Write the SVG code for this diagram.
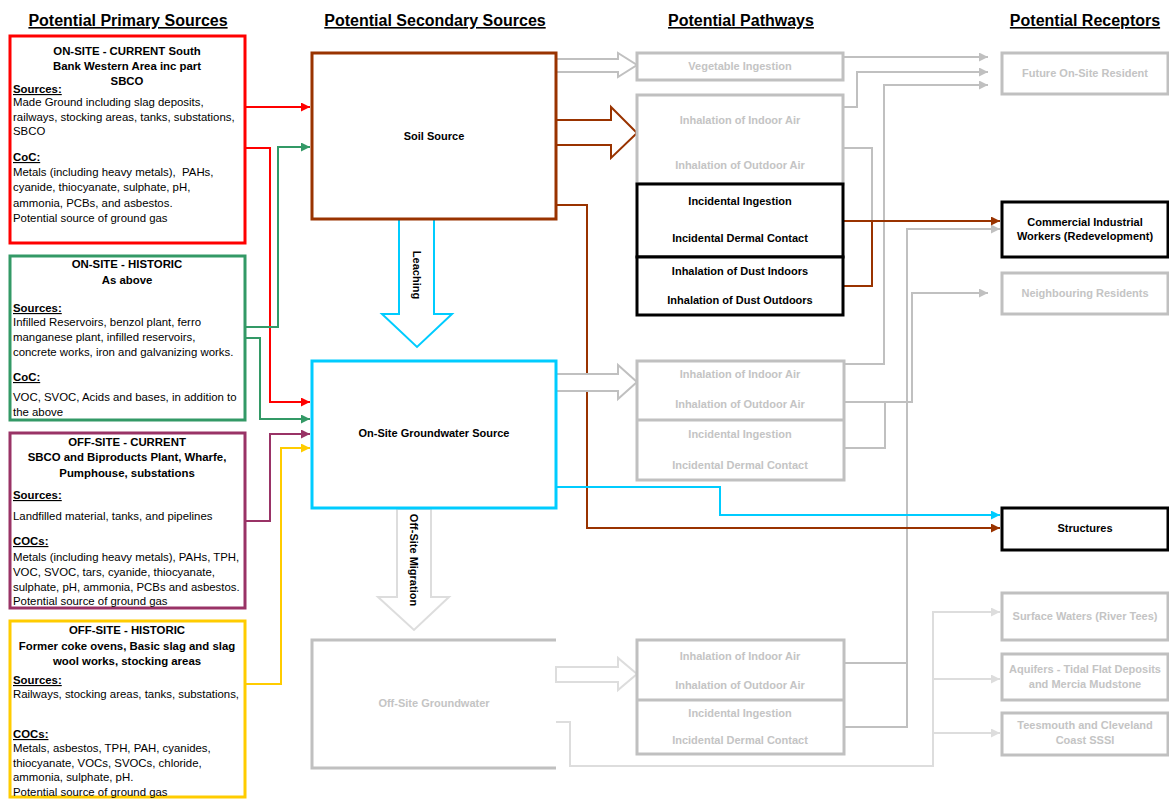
<svg xmlns="http://www.w3.org/2000/svg" width="1169" height="799" viewBox="0 0 1169 799">
<style>
text{font-family:"Liberation Sans",Arial,sans-serif;font-size:11px;fill:#000}
.L text{font-size:11.4px}
.b{font-weight:bold}
.c{text-anchor:middle}
.u{text-decoration:underline;font-weight:bold}
.g{fill:#C4C4C4}
.h{font-size:16px;font-weight:bold;text-decoration:underline;text-anchor:middle}
.box{fill:#fff;stroke-width:3}
.ln{fill:none;stroke-width:2}
.blk{fill:#fff;stroke-width:2}
</style>
<defs>
<marker id="mR" viewBox="0 0 10 10" refX="10" refY="5" markerWidth="10" markerHeight="9" markerUnits="userSpaceOnUse" orient="auto"><path d="M0,0L10,5L0,10z" fill="#FF0000"/></marker>
<marker id="mG" viewBox="0 0 10 10" refX="10" refY="5" markerWidth="10" markerHeight="9" markerUnits="userSpaceOnUse" orient="auto"><path d="M0,0L10,5L0,10z" fill="#339966"/></marker>
<marker id="mP" viewBox="0 0 10 10" refX="10" refY="5" markerWidth="10" markerHeight="9" markerUnits="userSpaceOnUse" orient="auto"><path d="M0,0L10,5L0,10z" fill="#993366"/></marker>
<marker id="mY" viewBox="0 0 10 10" refX="10" refY="5" markerWidth="10" markerHeight="9" markerUnits="userSpaceOnUse" orient="auto"><path d="M0,0L10,5L0,10z" fill="#FFCC00"/></marker>
<marker id="mB" viewBox="0 0 10 10" refX="10" refY="5" markerWidth="10" markerHeight="9" markerUnits="userSpaceOnUse" orient="auto"><path d="M0,0L10,5L0,10z" fill="#993300"/></marker>
<marker id="mC" viewBox="0 0 10 10" refX="10" refY="5" markerWidth="10" markerHeight="9" markerUnits="userSpaceOnUse" orient="auto"><path d="M0,0L10,5L0,10z" fill="#00CCFF"/></marker>
<marker id="mS" viewBox="0 0 10 10" refX="10" refY="5" markerWidth="12" markerHeight="9" markerUnits="userSpaceOnUse" orient="auto"><path d="M0,0L10,5L0,10z" fill="#C0C0C0"/></marker>
<marker id="mL" viewBox="0 0 10 10" refX="10" refY="5" markerWidth="12" markerHeight="9" markerUnits="userSpaceOnUse" orient="auto"><path d="M0,0L10,5L0,10z" fill="#DDDDDD"/></marker>
</defs>
<rect width="1169" height="799" fill="#fff"/>

<g id="headers">
<text class="h" x="128" y="26">Potential Primary Sources</text>
<text class="h" x="435" y="26">Potential Secondary Sources</text>
<text class="h" x="741" y="26">Potential Pathways</text>
<text class="h" x="1085" y="26">Potential Receptors</text>
</g>

<g id="connectors">
<path class="ln" stroke="#FF0000" d="M245,107H310" marker-end="url(#mR)"/>
<path class="ln" stroke="#FF0000" d="M245,148H270V402H310" marker-end="url(#mR)"/>
<path class="ln" stroke="#339966" d="M245,327H278V147H310" marker-end="url(#mG)"/>
<path class="ln" stroke="#339966" d="M245,338H260V419H310" marker-end="url(#mG)"/>
<path class="ln" stroke="#993366" d="M245,521H270V434H310" marker-end="url(#mP)"/>
<path class="ln" stroke="#FFCC00" d="M245,684H281V448H310" marker-end="url(#mY)"/>
<path class="ln" stroke="#C0C0C0" d="M843,57H988" marker-end="url(#mS)"/>
<path class="ln" stroke="#C0C0C0" d="M843,107H857V72H988" marker-end="url(#mS)"/>
<path class="ln" stroke="#C0C0C0" d="M844,364H884V85H988" marker-end="url(#mS)"/>
<path class="ln" stroke="#C0C0C0" d="M843,148H872V221"/>
<path class="ln" stroke="#C0C0C0" d="M844,448H885V402"/>
<path class="ln" stroke="#C0C0C0" d="M844,402H912V293H988" marker-end="url(#mS)"/>
<path class="ln" stroke="#C0C0C0" d="M844,663H907"/>
<path class="ln" stroke="#C0C0C0" d="M844,727H907V229H1000" marker-end="url(#mS)"/>
<path class="ln" stroke="#993300" d="M843,221H1000" marker-end="url(#mB)"/>
<path class="ln" stroke="#993300" d="M843,286H872V221"/>
<path class="ln" stroke="#993300" d="M556,205H587V528H1000" marker-end="url(#mB)"/>
<path class="ln" stroke="#00CCFF" d="M556,487H720V515H1000" marker-end="url(#mC)"/>
<path class="ln" stroke="#DDDDDD" d="M556,722H570V766H933V612H1000" marker-end="url(#mL)"/>
<path class="ln" stroke="#DDDDDD" d="M933,679H1000" marker-end="url(#mL)"/>
<path class="ln" stroke="#DDDDDD" d="M933,733H1000" marker-end="url(#mL)"/>
<polygon class="blk" stroke="#C0C0C0" points="556,59 618,59 618,53 637,65 618,77 618,72 556,72"/>
<polygon class="blk" stroke="#993300" points="556,120 611,120 611,107 637,133 611,158 611,145 556,145"/>
<polygon class="blk" stroke="#C0C0C0" points="556,374 618,374 618,365 637,382 618,399 618,391 556,391"/>
<polygon class="blk" stroke="#DDDDDD" points="556,667 618,667 618,658 637,674 618,690 618,682 556,682"/>
<polygon class="blk" stroke="#00CCFF" points="399,219 399,314 382,314 417,347 452,314 434,314 434,219"/>
<text class="b c" transform="translate(413,275) rotate(90)">Leaching</text>
<polygon class="blk" stroke="#DDDDDD" points="397,509 397,597 378,597 414,630 449,597 431,597 431,509"/>
<text class="b c" transform="translate(410,560) rotate(90)">Off-Site Migration</text>
</g>

<g id="primary-onsite-current" class="L">
<rect class="box" stroke="#FF0000" x="10" y="36" width="235" height="207"/>
<text class="b c" x="127" y="55">ON-SITE - CURRENT South</text>
<text class="b c" x="127" y="70">Bank Western Area inc part</text>
<text class="b c" x="127" y="85">SBCO</text>
<text class="u" x="13" y="93">Sources:</text>
<text x="13" y="106">Made Ground including slag deposits,</text>
<text x="13" y="121">railways, stocking areas, tanks, substations,</text>
<text x="13" y="135">SBCO</text>
<text class="u" x="13" y="161">CoC:</text>
<text x="13" y="176" xml:space="preserve">Metals (including heavy metals),  PAHs,</text>
<text x="13" y="191">cyanide, thiocyanate, sulphate, pH,</text>
<text x="13" y="207">ammonia, PCBs, and asbestos.</text>
<text x="13" y="222">Potential source of ground gas</text>
</g>

<g id="primary-onsite-historic" class="L">
<rect class="box" stroke="#339966" x="10" y="256" width="235" height="164"/>
<text class="b c" x="127" y="268">ON-SITE - HISTORIC</text>
<text class="b c" x="127" y="284">As above</text>
<text class="u" x="13" y="312">Sources:</text>
<text x="13" y="326">Infilled Reservoirs, benzol plant, ferro</text>
<text x="13" y="341">manganese plant, infilled reservoirs,</text>
<text x="13" y="356">concrete works, iron and galvanizing works.</text>
<text class="u" x="13" y="381">CoC:</text>
<text x="13" y="401">VOC, SVOC, Acids and bases, in addition to</text>
<text x="13" y="416">the above</text>
</g>

<g id="primary-offsite-current" class="L">
<rect class="box" stroke="#993366" x="10" y="433" width="235" height="175"/>
<text class="b c" x="127" y="446">OFF-SITE - CURRENT</text>
<text class="b c" x="127" y="461">SBCO and Biproducts Plant, Wharfe,</text>
<text class="b c" x="127" y="477">Pumphouse, substations</text>
<text class="u" x="13" y="499">Sources:</text>
<text x="13" y="520">Landfilled material, tanks, and pipelines</text>
<text class="u" x="13" y="545">COCs:</text>
<text x="13" y="561">Metals (including heavy metals), PAHs, TPH,</text>
<text x="13" y="576">VOC, SVOC, tars, cyanide, thiocyanate,</text>
<text x="13" y="591">sulphate, pH, ammonia, PCBs and asbestos.</text>
<text x="13" y="605">Potential source of ground gas</text>
</g>

<g id="primary-offsite-historic" class="L">
<rect class="box" stroke="#FFCC00" x="10" y="621" width="235" height="176"/>
<text class="b c" x="127" y="634">OFF-SITE - HISTORIC</text>
<text class="b c" x="127" y="650">Former coke ovens, Basic slag and slag</text>
<text class="b c" x="127" y="665">wool works, stocking areas</text>
<text class="u" x="13" y="684">Sources:</text>
<text x="13" y="698">Railways, stocking areas, tanks, substations,</text>
<text class="u" x="13" y="738">COCs:</text>
<text x="13" y="752">Metals, asbestos, TPH, PAH, cyanides,</text>
<text x="13" y="767">thiocyanate, VOCs, SVOCs, chloride,</text>
<text x="13" y="781">ammonia, sulphate, pH.</text>
<text x="13" y="796">Potential source of ground gas</text>
</g>

<g id="soil-source">
<rect class="box" stroke="#993300" x="312" y="53" width="244" height="166"/>
<text class="b c" x="434" y="140">Soil Source</text>
</g>

<g id="onsite-groundwater">
<rect class="box" stroke="#00CCFF" x="312" y="361" width="244" height="147"/>
<text class="b c" x="434" y="437">On-Site Groundwater Source</text>
</g>

<g id="offsite-groundwater">
<path d="M556,640H312V768H556" fill="none" stroke="#C0C0C0" stroke-width="3"/>
<text class="b c g" x="434" y="707">Off-Site Groundwater</text>
</g>

<g id="pw-vegetable">
<rect class="box" stroke="#C0C0C0" x="637" y="53" width="206" height="27"/>
<text class="b c g" x="740" y="70">Vegetable Ingestion</text>
</g>

<g id="pw-soil-inhalation">
<rect class="box" stroke="#C0C0C0" x="637" y="95" width="206" height="89"/>
<text class="b c g" x="740" y="124">Inhalation of Indoor Air</text>
<text class="b c g" x="740" y="169">Inhalation of Outdoor Air</text>
</g>

<g id="pw-soil-incidental">
<rect class="box" stroke="#000" x="637" y="184" width="206" height="73"/>
<text class="b c" x="740" y="205">Incidental Ingestion</text>
<text class="b c" x="740" y="242">Incidental Dermal Contact</text>
</g>

<g id="pw-soil-dust">
<rect class="box" stroke="#000" x="637" y="257" width="206" height="58"/>
<text class="b c" x="740" y="275">Inhalation of Dust Indoors</text>
<text class="b c" x="740" y="304">Inhalation of Dust Outdoors</text>
</g>

<g id="pw-gw">
<rect class="box" stroke="#C0C0C0" x="637" y="361" width="207" height="119"/>
<line x1="637" y1="420" x2="844" y2="420" stroke="#C0C0C0" stroke-width="3"/>
<text class="b c g" x="740" y="378">Inhalation of Indoor Air</text>
<text class="b c g" x="740" y="408">Inhalation of Outdoor Air</text>
<text class="b c g" x="740" y="438">Incidental Ingestion</text>
<text class="b c g" x="740" y="469">Incidental Dermal Contact</text>
</g>

<g id="pw-offsite">
<rect class="box" stroke="#C0C0C0" x="637" y="640" width="207" height="114"/>
<line x1="637" y1="700" x2="844" y2="700" stroke="#C0C0C0" stroke-width="3"/>
<text class="b c g" x="740" y="660">Inhalation of Indoor Air</text>
<text class="b c g" x="740" y="689">Inhalation of Outdoor Air</text>
<text class="b c g" x="740" y="717">Incidental Ingestion</text>
<text class="b c g" x="740" y="744">Incidental Dermal Contact</text>
</g>

<g id="rc-future">
<rect class="box" stroke="#C0C0C0" x="1002" y="53" width="166" height="41"/>
<text class="b c g" x="1085" y="77">Future On-Site Resident</text>
</g>
<g id="rc-commercial">
<rect class="box" stroke="#000" x="1002" y="202" width="166" height="55"/>
<text class="b c" x="1085" y="226">Commercial Industrial</text>
<text class="b c" x="1085" y="240">Workers (Redevelopment)</text>
</g>
<g id="rc-neighbouring">
<rect class="box" stroke="#C0C0C0" x="1002" y="273" width="166" height="41"/>
<text class="b c g" x="1085" y="297">Neighbouring Residents</text>
</g>
<g id="rc-structures">
<rect class="box" stroke="#000" x="1002" y="508" width="166" height="42"/>
<text class="b c" x="1085" y="532">Structures</text>
</g>
<g id="rc-surface">
<rect class="box" stroke="#C0C0C0" x="1002" y="593" width="166" height="47"/>
<text class="b c g" x="1085" y="620">Surface Waters (River Tees)</text>
</g>
<g id="rc-aquifers">
<rect class="box" stroke="#C0C0C0" x="1002" y="654" width="166" height="46"/>
<text class="b c g" x="1085" y="673">Aquifers - Tidal Flat Deposits</text>
<text class="b c g" x="1085" y="688">and Mercia Mudstone</text>
</g>
<g id="rc-sssi">
<rect class="box" stroke="#C0C0C0" x="1002" y="713" width="166" height="42"/>
<text class="b c g" x="1085" y="729">Teesmouth and Cleveland</text>
<text class="b c g" x="1085" y="744">Coast SSSI</text>
</g>
</svg>
